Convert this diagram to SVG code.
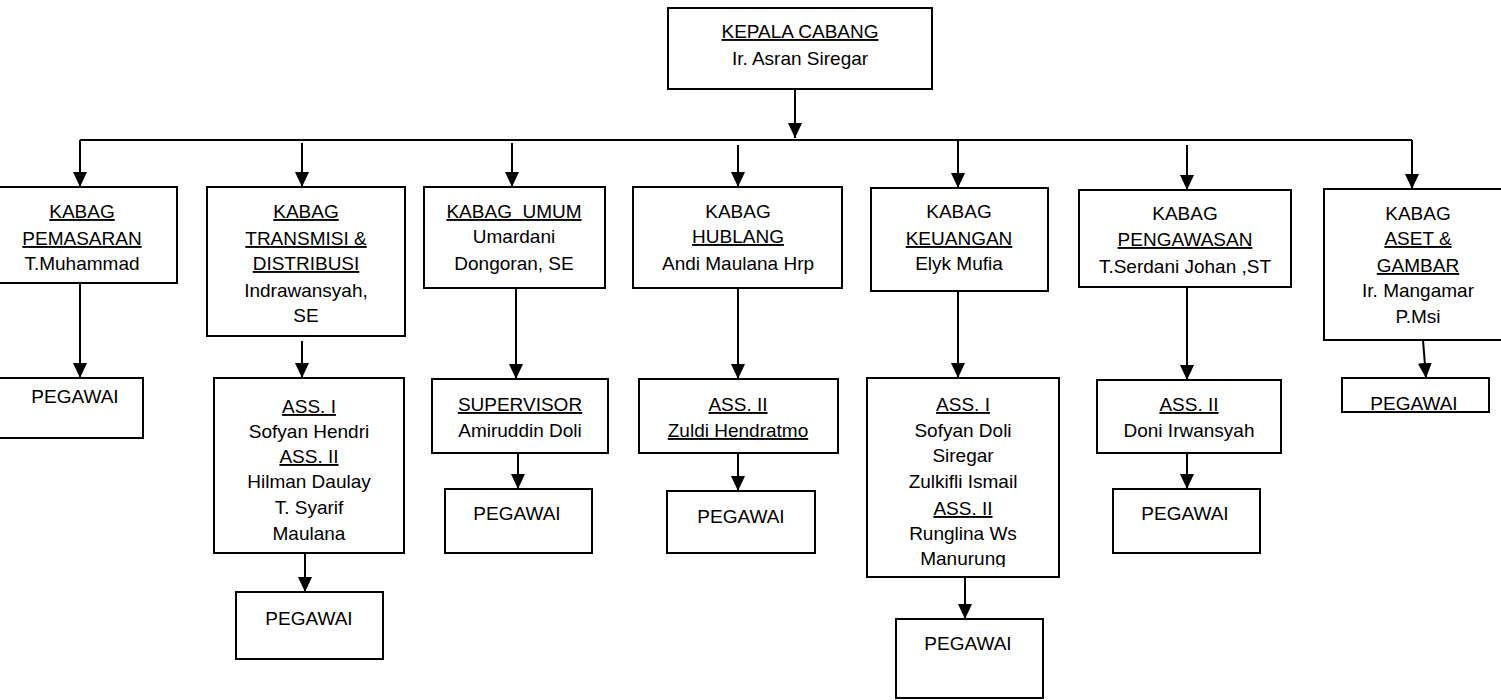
<svg xmlns="http://www.w3.org/2000/svg" width="1501" height="700" viewBox="0 0 1501 700">
<style>
  rect.box { fill: #fff; stroke: #000; stroke-width: 2; }
  text { font-family: "Liberation Sans", Arial, sans-serif; font-size: 19px; fill: #000; text-anchor: middle; }
  .u { text-decoration: underline; }
  .conn line, .conn path { stroke: #000; stroke-width: 2; fill: none; }
</style>
<defs>
  <marker id="ah" markerUnits="userSpaceOnUse" markerWidth="15" markerHeight="14" viewBox="0 0 15 14" refX="15" refY="7" orient="auto">
    <path d="M0,0 L15,7 L0,14 z" fill="#000"/>
  </marker>
  <clipPath id="clipKeu"><rect x="867" y="378" width="192" height="189"/></clipPath>
</defs>
<rect width="1501" height="700" fill="#fff"/>

<g class="conn">
  <line x1="80" y1="140" x2="1412" y2="140"/>
  <line x1="795" y1="89" x2="795" y2="138" marker-end="url(#ah)"/>
  <line x1="80" y1="140" x2="80" y2="187" marker-end="url(#ah)"/>
  <line x1="302" y1="143" x2="302" y2="187" marker-end="url(#ah)"/>
  <line x1="512" y1="143" x2="512" y2="187" marker-end="url(#ah)"/>
  <line x1="738" y1="145" x2="738" y2="187" marker-end="url(#ah)"/>
  <line x1="958" y1="140" x2="958" y2="188" marker-end="url(#ah)"/>
  <line x1="1187" y1="145" x2="1187" y2="190" marker-end="url(#ah)"/>
  <line x1="1412" y1="140" x2="1412" y2="189" marker-end="url(#ah)"/>
  <line x1="80" y1="283" x2="80" y2="378" marker-end="url(#ah)"/>
  <line x1="302" y1="341" x2="302" y2="378" marker-end="url(#ah)"/>
  <line x1="305" y1="553" x2="305" y2="592" marker-end="url(#ah)"/>
  <line x1="516" y1="288" x2="516" y2="379" marker-end="url(#ah)"/>
  <line x1="518" y1="453" x2="518" y2="489" marker-end="url(#ah)"/>
  <line x1="738" y1="288" x2="738" y2="379" marker-end="url(#ah)"/>
  <line x1="738" y1="453" x2="738" y2="491" marker-end="url(#ah)"/>
  <line x1="958" y1="291" x2="958" y2="378" marker-end="url(#ah)"/>
  <line x1="965" y1="577" x2="965" y2="619" marker-end="url(#ah)"/>
  <line x1="1187" y1="287" x2="1187" y2="380" marker-end="url(#ah)"/>
  <line x1="1187" y1="453" x2="1187" y2="489" marker-end="url(#ah)"/>
  <line x1="1423" y1="340" x2="1426" y2="378" marker-end="url(#ah)"/>
</g>

<g id="kepala">
  <rect class="box" x="668" y="8" width="264" height="81"/>
  <text x="800" y="38" class="u">KEPALA CABANG</text>
  <text x="800" y="65">Ir. Asran Siregar</text>
</g>

<g id="pemasaran">
  <rect class="box" x="-10" y="187" width="187" height="96"/>
  <text x="82" y="218" class="u">KABAG</text>
  <text x="82" y="245" class="u">PEMASARAN</text>
  <text x="82" y="270">T.Muhammad</text>
</g>
<g id="pegawai1">
  <rect class="box" x="-10" y="378" width="153" height="60"/>
  <text x="75" y="403">PEGAWAI</text>
</g>

<g id="transmisi">
  <rect class="box" x="207" y="187" width="198" height="149"/>
  <text x="306" y="218" class="u">KABAG</text>
  <text x="306" y="245" class="u">TRANSMISI &amp;</text>
  <text x="306" y="270" class="u">DISTRIBUSI</text>
  <text x="306" y="297">Indrawansyah,</text>
  <text x="306" y="322">SE</text>
</g>
<g id="ass-transmisi">
  <rect class="box" x="214" y="378" width="190" height="175"/>
  <text x="309" y="413" class="u">ASS. I</text>
  <text x="309" y="438">Sofyan Hendri</text>
  <text x="309" y="463" class="u">ASS. II</text>
  <text x="309" y="488">Hilman Daulay</text>
  <text x="309" y="514">T. Syarif</text>
  <text x="309" y="540">Maulana</text>
</g>
<g id="pegawai2">
  <rect class="box" x="236" y="592" width="147" height="67"/>
  <text x="309" y="625">PEGAWAI</text>
</g>

<g id="umum">
  <rect class="box" x="424" y="187" width="181" height="101"/>
  <text x="514" y="218" class="u">KABAG&#160; UMUM</text>
  <text x="514" y="243">Umardani</text>
  <text x="514" y="270">Dongoran, SE</text>
</g>
<g id="supervisor">
  <rect class="box" x="432" y="379" width="176" height="74"/>
  <text x="520" y="411" class="u">SUPERVISOR</text>
  <text x="520" y="437">Amiruddin Doli</text>
</g>
<g id="pegawai3">
  <rect class="box" x="445" y="489" width="147" height="64"/>
  <text x="517" y="520">PEGAWAI</text>
</g>

<g id="hublang">
  <rect class="box" x="633" y="187" width="209" height="101"/>
  <text x="738" y="218">KABAG</text>
  <text x="738" y="243" class="u">HUBLANG</text>
  <text x="738" y="270">Andi Maulana Hrp</text>
</g>
<g id="ass-hublang">
  <rect class="box" x="639" y="379" width="199" height="74"/>
  <text x="738" y="411" class="u">ASS. II</text>
  <text x="738" y="437" class="u">Zuldi Hendratmo</text>
</g>
<g id="pegawai4">
  <rect class="box" x="667" y="491" width="148" height="62"/>
  <text x="741" y="523">PEGAWAI</text>
</g>

<g id="keuangan">
  <rect class="box" x="871" y="188" width="177" height="103"/>
  <text x="959" y="218">KABAG</text>
  <text x="959" y="245" class="u">KEUANGAN</text>
  <text x="959" y="270">Elyk Mufia</text>
</g>
<g id="ass-keuangan">
  <rect class="box" x="867" y="378" width="192" height="199"/>
  <g clip-path="url(#clipKeu)">
    <text x="963" y="411" class="u">ASS. I</text>
    <text x="963" y="437">Sofyan Doli</text>
    <text x="963" y="462">Siregar</text>
    <text x="963" y="488">Zulkifli Ismail</text>
    <text x="963" y="515" class="u">ASS. II</text>
    <text x="963" y="540">Runglina Ws</text>
    <text x="963" y="565">Manurung</text>
  </g>
</g>
<g id="pegawai5">
  <rect class="box" x="896" y="619" width="147" height="79"/>
  <text x="968" y="650">PEGAWAI</text>
</g>

<g id="pengawasan">
  <rect class="box" x="1079" y="190" width="212" height="97"/>
  <text x="1185" y="220">KABAG</text>
  <text x="1185" y="246" class="u">PENGAWASAN</text>
  <text x="1185" y="273">T.Serdani Johan ,ST</text>
</g>
<g id="ass-pengawasan">
  <rect class="box" x="1097" y="380" width="184" height="73"/>
  <text x="1189" y="411" class="u">ASS. II</text>
  <text x="1189" y="437">Doni Irwansyah</text>
</g>
<g id="pegawai6">
  <rect class="box" x="1113" y="489" width="147" height="64"/>
  <text x="1185" y="520">PEGAWAI</text>
</g>

<g id="aset">
  <rect class="box" x="1324" y="189" width="190" height="151"/>
  <text x="1418" y="220">KABAG</text>
  <text x="1418" y="245" class="u">ASET &amp;</text>
  <text x="1418" y="272" class="u">GAMBAR</text>
  <text x="1418" y="297">Ir. Mangamar</text>
  <text x="1418" y="323">P.Msi</text>
</g>
<g id="pegawai7">
  <rect class="box" x="1342" y="378" width="147" height="34"/>
  <text x="1414" y="410">PEGAWAI</text>
</g>
</svg>
